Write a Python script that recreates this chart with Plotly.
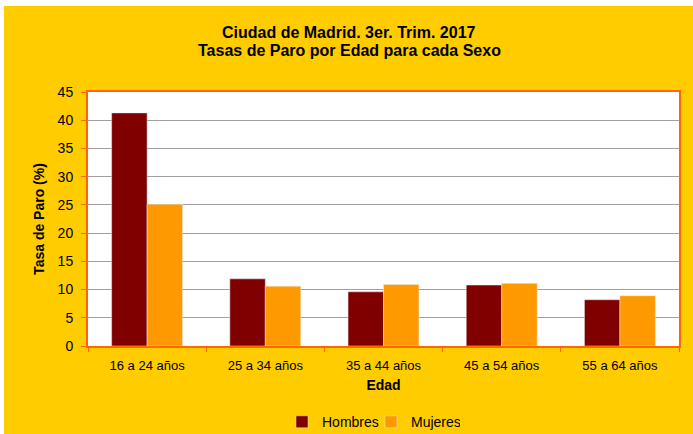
import plotly.graph_objects as go

# Tasa de paro por edad y sexo, Ciudad de Madrid, 3er trimestre 2017
edades = ["16 a 24 años", "25 a 34 años", "35 a 44 años", "45 a 54 años", "55 a 64 años"]
hombres = [41.3, 11.9, 9.6, 10.8, 8.2]
mujeres = [25.1, 10.6, 10.9, 11.1, 8.9]
titulo = ["Ciudad de Madrid. 3er. Trim. 2017", "Tasas de Paro por Edad para cada Sexo"]

FONT = "Liberation Sans, Arial, sans-serif"
ORANGE = "#FF6600"

fig = go.Figure()
fig.add_trace(go.Bar(x=edades, y=hombres, name="Hombres", marker_color="#800000"))
fig.add_trace(go.Bar(x=edades, y=mujeres, name="Mujeres", marker_color="#FF9900"))

fig.update_layout(
    width=693, height=434,
    margin=dict(l=88, r=14, t=92, b=88, autoexpand=False),
    paper_bgcolor="#FFCC00",
    plot_bgcolor="white",
    font=dict(family=FONT, size=13, color="black"),
    barmode="group", bargap=0.4, bargroupgap=0,
    showlegend=True,
    legend=dict(orientation="h", x=(282 - 88) / 591, xanchor="left", y=-0.30, yanchor="middle",
                bgcolor="rgba(0,0,0,0)", font=dict(size=14), entrywidth=44,
                traceorder="normal"),
)

# title as two annotations, tight line spacing
for i, linea in enumerate(titulo):
    fig.add_annotation(text="<b>" + linea + "</b>", xref="paper", yref="paper",
                       x=(349 - 88) / 591, y=1 + (92 - 33 - 17 * i) / 254,
                       xanchor="center", yanchor="middle", showarrow=False,
                       font=dict(size=16, family=FONT, color="black"))

fig.update_xaxes(
    automargin=False,
    showline=True, linecolor=ORANGE, linewidth=2, mirror=True,
    ticks="outside", tickson="boundaries", ticklen=4, tickcolor=ORANGE,
    ticklabelstandoff=6,
    showgrid=False,
    title=dict(text="<b>Edad</b>", font=dict(size=14), standoff=9),
)
fig.update_yaxes(
    automargin=False,
    range=[0, 45], dtick=5,
    showline=True, linecolor=ORANGE, linewidth=2, mirror=True,
    ticks="outside", ticklen=5, tickcolor=ORANGE,
    ticklabelstandoff=5,
    showgrid=True, gridcolor="#A0A0A0", gridwidth=1, zeroline=False,
    tickfont=dict(size=14),
    title=dict(text="<b>Tasa de Paro (%)</b>", font=dict(size=14), standoff=10),
)

# white strips at the top and left border of the picture
fig.add_shape(type="rect", xref="paper", yref="paper",
              x0=-88 / 591, x1=1 + 14 / 591, y0=1 + 86 / 254, y1=1 + 92 / 254,
              fillcolor="white", line_width=0, layer="above")
fig.add_shape(type="rect", xref="paper", yref="paper",
              x0=-88 / 591, x1=-84 / 591, y0=-88 / 254, y1=1 + 92 / 254,
              fillcolor="white", line_width=0, layer="above")

fig.write_html("out.html", config={"displayModeBar": False},
               post_script="document.body.style.margin='0px';")
